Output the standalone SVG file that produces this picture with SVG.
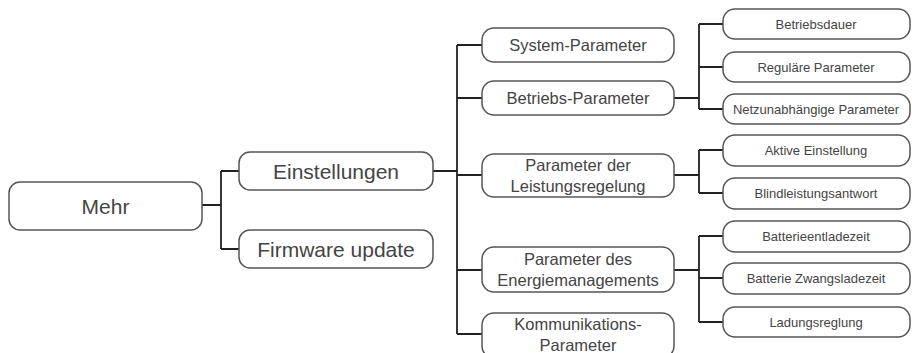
<svg xmlns="http://www.w3.org/2000/svg" width="912" height="353" viewBox="0 0 912 353">
<style>
.box{fill:#fff;stroke:#555;stroke-width:1.5}
.c{fill:none;stroke:#222;stroke-width:1.8}
text{font-family:"Liberation Sans",Arial,sans-serif;fill:#444;text-anchor:middle;dominant-baseline:central}
.l1{font-size:21px}
.l2{font-size:16.5px}
.l3{font-size:13px}
</style>
<rect width="912" height="353" fill="#fff"/>
<g id="connectors">
<path class="c" d="M202 205H221M221 171V249M221 171H239M221 249H239"/>
<path class="c" d="M433 171H457M457 45V334M457 45H482M457 98H482M457 175H482M457 270H482M457 334H482"/>
<path class="c" d="M674 98H699M699 24V109M699 24H723M699 67H723M699 109H723"/>
<path class="c" d="M674 175H699M699 150V193M699 150H723M699 193H723"/>
<path class="c" d="M674 270H699M699 236V322M699 236H723M699 278H723M699 322H723"/>
</g>
<g id="mehr"><rect class="box" x="9" y="182" width="193" height="48" rx="11"/><text class="l1" x="105.5" y="206">Mehr</text></g>
<g id="einstellungen"><rect class="box" x="239" y="152" width="194" height="38" rx="11"/><text class="l1" x="336" y="171">Einstellungen</text></g>
<g id="firmware"><rect class="box" x="239" y="230" width="194" height="38" rx="11"/><text class="l1" x="336" y="249">Firmware update</text></g>
<g id="system"><rect class="box" x="482" y="28" width="192" height="34" rx="12"/><text class="l2" x="578" y="45">System-Parameter</text></g>
<g id="betriebs"><rect class="box" x="482" y="81" width="192" height="34" rx="12"/><text class="l2" x="578" y="98">Betriebs-Parameter</text></g>
<g id="leistung"><rect class="box" x="482" y="154" width="192" height="43" rx="12"/><text class="l2" x="578" y="165">Parameter der</text><text class="l2" x="578" y="186">Leistungsregelung</text></g>
<g id="energie"><rect class="box" x="482" y="247" width="192" height="45" rx="12"/><text class="l2" x="578" y="259">Parameter des</text><text class="l2" x="578" y="280">Energiemanagements</text></g>
<g id="kommunikation"><rect class="box" x="482" y="313" width="192" height="45" rx="12"/><text class="l2" x="578" y="324">Kommunikations-</text><text class="l2" x="578" y="345">Parameter</text></g>
<g id="betriebsdauer"><rect class="box" x="723" y="9" width="187" height="30" rx="12"/><text class="l3" x="816" y="24">Betriebsdauer</text></g>
<g id="regulaere"><rect class="box" x="723" y="52" width="187" height="30" rx="12"/><text class="l3" x="816" y="67">Reguläre Parameter</text></g>
<g id="netz"><rect class="box" x="723" y="94" width="187" height="30" rx="12"/><text class="l3" x="816" y="109">Netzunabhängige Parameter</text></g>
<g id="aktive"><rect class="box" x="723" y="135" width="187" height="31" rx="12"/><text class="l3" x="816" y="150">Aktive Einstellung</text></g>
<g id="blind"><rect class="box" x="723" y="178" width="187" height="31" rx="12"/><text class="l3" x="816" y="193">Blindleistungsantwort</text></g>
<g id="entlade"><rect class="box" x="723" y="221" width="187" height="31" rx="12"/><text class="l3" x="816" y="236">Batterieentladezeit</text></g>
<g id="zwang"><rect class="box" x="723" y="263" width="187" height="31" rx="12"/><text class="l3" x="816" y="278">Batterie Zwangsladezeit</text></g>
<g id="ladung"><rect class="box" x="723" y="307" width="187" height="30" rx="12"/><text class="l3" x="816" y="322">Ladungsreglung</text></g>
</svg>
